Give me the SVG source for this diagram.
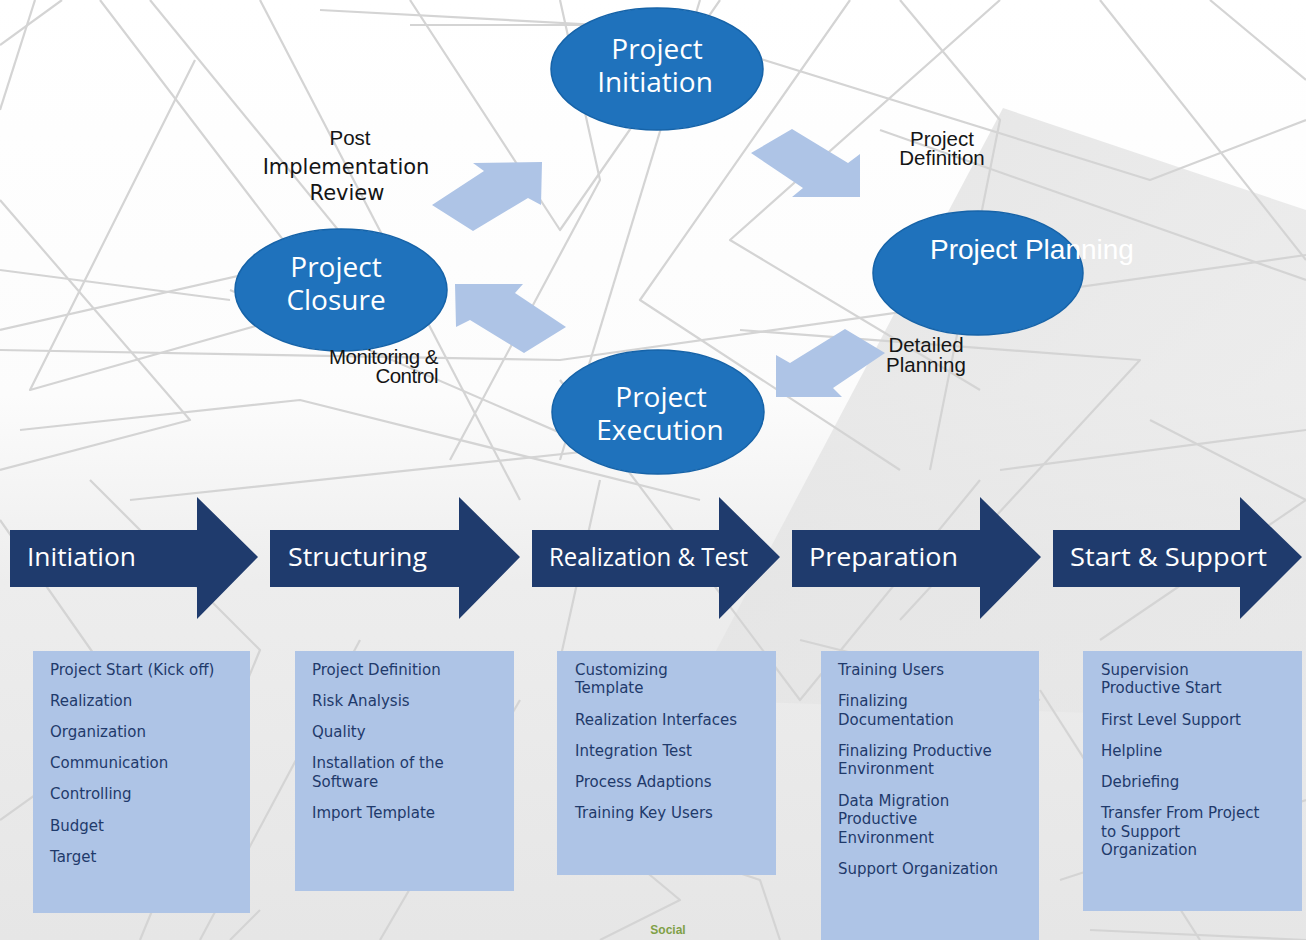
<svg xmlns="http://www.w3.org/2000/svg" width="1306" height="940" viewBox="0 0 1306 940">
<defs>
<linearGradient id="bg" x1="0" y1="0" x2="0" y2="1">
<stop offset="0" stop-color="#FFFFFF"/>
<stop offset="0.42" stop-color="#FCFCFC"/>
<stop offset="0.62" stop-color="#EDEDED"/>
<stop offset="1" stop-color="#E6E6E6"/>
</linearGradient>
<linearGradient id="tri" x1="0" y1="0" x2="1" y2="1">
<stop offset="0" stop-color="#E2E2E2" stop-opacity="0.9"/>
<stop offset="1" stop-color="#E6E6E6" stop-opacity="0.6"/>
</linearGradient>
<style>
.bgl{fill:none;stroke:#D4D4D4;stroke-width:2.2;stroke-linejoin:round}
.ell{fill:#1F72BC;stroke:#1663A8;stroke-width:1.5}
.et{font-family:"Open Sans","DejaVu Sans",sans-serif;font-size:28px;fill:#FFFFFF;text-anchor:middle}
.ca{fill:#AEC4E6}
.lb{font-family:"Liberation Sans",Arial,sans-serif;font-size:20.5px;fill:#151515}
.lv{font-family:"DejaVu Sans",Verdana,sans-serif;font-size:21px;fill:#151515;text-anchor:middle}
.pa{fill:#1F3B6D}
.pt{font-family:"Open Sans","DejaVu Sans",sans-serif;font-size:26px;fill:#FFFFFF}
.bx{fill:#AEC4E6}
.bt{font-family:"DejaVu Sans",Verdana,sans-serif;font-size:15px;fill:#1F3A6B}
</style>
</defs>
<g id="background">
<rect x="0" y="0" width="1306" height="940" fill="url(#bg)"/>
<polygon points="1003,108 1306,210 1306,720 690,700" fill="url(#tri)"/>
<polyline class="bgl" points="0,45 62,0"/>
<polyline class="bgl" points="35,0 0,110"/>
<polyline class="bgl" points="100,0 300,262 0,330"/>
<polyline class="bgl" points="195,60 30,390 330,305"/>
<polyline class="bgl" points="150,0 420,330"/>
<polyline class="bgl" points="0,200 190,420 0,470"/>
<polyline class="bgl" points="0,270 230,300"/>
<polyline class="bgl" points="260,0 520,500"/>
<polyline class="bgl" points="410,25 600,25 320,10"/>
<polyline class="bgl" points="410,0 560,230 720,0"/>
<polyline class="bgl" points="230,290 600,450 130,500"/>
<polyline class="bgl" points="20,430 300,400 700,500"/>
<polyline class="bgl" points="560,0 600,180 450,460"/>
<polyline class="bgl" points="700,0 560,460"/>
<polyline class="bgl" points="850,0 640,300 900,470"/>
<polyline class="bgl" points="1000,0 730,240 980,390"/>
<polyline class="bgl" points="700,40 1150,180 1306,120"/>
<polyline class="bgl" points="0,350 560,360 1306,255"/>
<polyline class="bgl" points="880,130 1306,280"/>
<polyline class="bgl" points="1100,0 1306,260"/>
<polyline class="bgl" points="1210,0 1306,80"/>
<polyline class="bgl" points="900,0 1000,120 930,470"/>
<polyline class="bgl" points="1150,420 1306,500 1100,640"/>
<polyline class="bgl" points="740,330 1140,360 900,620"/>
<polyline class="bgl" points="1000,470 1306,430"/>
<polyline class="bgl" points="560,380 800,700 980,480"/>
<polyline class="bgl" points="600,480 560,660 760,700"/>
<polyline class="bgl" points="90,480 260,650 140,940"/>
<polyline class="bgl" points="0,520 140,720 0,820"/>
<polyline class="bgl" points="260,910 230,940"/>
<polyline class="bgl" points="360,640 200,940"/>
<polyline class="bgl" points="520,700 380,940"/>
<polyline class="bgl" points="560,800 680,900 600,940"/>
<polyline class="bgl" points="700,860 760,880 780,940"/>
<polyline class="bgl" points="1040,690 1200,940"/>
<polyline class="bgl" points="1060,880 1306,800"/>
<polyline class="bgl" points="1090,930 1306,940"/>
<polyline class="bgl" points="800,640 1040,700"/>
</g>
<g id="connectors">
<polygon class="ca" points="432,205 484,171 473,163 542,162 541,205 528,198 473,231"/>
<polygon class="ca" points="751,153 792,129 848,163 860,154 860,197 792,197 803,188"/>
<polygon class="ca" points="776,355 790,363 845,329 885,353 833,388 842,397 776,397"/>
<polygon class="ca" points="455,284 523,284 515,293 566,327 524,353 470,320 456,327"/>
</g>
<g id="node-initiation">
<ellipse class="ell" cx="657" cy="69" rx="106" ry="61"/>
<text class="et" x="657" y="59">Project</text>
<text class="et" x="655" y="92">Initiation</text>
</g>
<g id="node-planning">
<ellipse class="ell" cx="978" cy="273" rx="105" ry="62"/>
<text x="930" y="259" font-family="Liberation Sans, Arial, sans-serif" font-size="28" fill="#FFFFFF">Project Planning</text>
</g>
<g id="node-execution">
<ellipse class="ell" cx="658" cy="412" rx="106" ry="62"/>
<text class="et" x="661" y="407">Project</text>
<text class="et" x="660" y="440">Execution</text>
</g>
<g id="node-closure">
<ellipse class="ell" cx="341" cy="290" rx="106" ry="61"/>
<text class="et" x="336" y="277">Project</text>
<text class="et" x="336" y="310">Closure</text>
</g>
<g id="labels">
<text class="lb" x="350" y="145" text-anchor="middle" font-size="20">Post</text>
<text class="lv" x="346" y="174">Implementation</text>
<text class="lv" x="347" y="200">Review</text>
<text class="lb" x="942" y="146" text-anchor="middle">Project</text>
<text class="lb" x="942" y="165" text-anchor="middle">Definition</text>
<text class="lb" x="926" y="352" text-anchor="middle">Detailed</text>
<text class="lb" x="926" y="372" text-anchor="middle">Planning</text>
<text class="lb" x="438" y="364" text-anchor="end" letter-spacing="-0.5">Monitoring &amp;</text>
<text class="lb" x="438" y="383" text-anchor="end" letter-spacing="-0.5">Control</text>
</g>
<g id="phase-initiation">
<polygon class="pa" points="10,530 197,530 197,497 258,557 197,619 197,587 10,587"/>
<text class="pt" x="27" y="566" textLength="109" lengthAdjust="spacingAndGlyphs">Initiation</text>
</g>
<g id="phase-structuring">
<polygon class="pa" points="270,530 459,530 459,497 520,557 459,619 459,587 270,587"/>
<text class="pt" x="288" y="566" textLength="139" lengthAdjust="spacingAndGlyphs">Structuring</text>
</g>
<g id="phase-realization">
<polygon class="pa" points="532,530 719,530 719,497 780,557 719,619 719,587 532,587"/>
<text class="pt" x="549" y="566" textLength="199" lengthAdjust="spacingAndGlyphs">Realization &amp; Test</text>
</g>
<g id="phase-preparation">
<polygon class="pa" points="792,530 980,530 980,497 1041,557 980,619 980,587 792,587"/>
<text class="pt" x="809" y="566" textLength="149" lengthAdjust="spacingAndGlyphs">Preparation</text>
</g>
<g id="phase-start">
<polygon class="pa" points="1053,530 1240,530 1240,497 1302,557 1240,619 1240,587 1053,587"/>
<text class="pt" x="1070" y="566" textLength="197" lengthAdjust="spacingAndGlyphs">Start &amp; Support</text>
</g>
<g id="box-initiation">
<rect class="bx" x="33" y="651" width="217" height="262"/>
<text class="bt" x="50" y="675">Project Start (Kick off)</text>
<text class="bt" x="50" y="706">Realization</text>
<text class="bt" x="50" y="737">Organization</text>
<text class="bt" x="50" y="768">Communication</text>
<text class="bt" x="50" y="799">Controlling</text>
<text class="bt" x="50" y="831">Budget</text>
<text class="bt" x="50" y="862">Target</text>
</g>
<g id="box-structuring">
<rect class="bx" x="295" y="651" width="219" height="240"/>
<text class="bt" x="312" y="675">Project Definition</text>
<text class="bt" x="312" y="706">Risk Analysis</text>
<text class="bt" x="312" y="737">Quality</text>
<text class="bt" x="312" y="768">Installation of the</text>
<text class="bt" x="312" y="787">Software</text>
<text class="bt" x="312" y="818">Import Template</text>
</g>
<g id="box-realization">
<rect class="bx" x="557" y="651" width="219" height="224"/>
<text class="bt" x="575" y="675">Customizing</text>
<text class="bt" x="575" y="693">Template</text>
<text class="bt" x="575" y="725">Realization Interfaces</text>
<text class="bt" x="575" y="756">Integration Test</text>
<text class="bt" x="575" y="787">Process Adaptions</text>
<text class="bt" x="575" y="818">Training Key Users</text>
</g>
<g id="box-preparation">
<rect class="bx" x="821" y="651" width="218" height="289"/>
<text class="bt" x="838" y="675">Training Users</text>
<text class="bt" x="838" y="706">Finalizing</text>
<text class="bt" x="838" y="725">Documentation</text>
<text class="bt" x="838" y="756">Finalizing Productive</text>
<text class="bt" x="838" y="774">Environment</text>
<text class="bt" x="838" y="806">Data Migration</text>
<text class="bt" x="838" y="824">Productive</text>
<text class="bt" x="838" y="843">Environment</text>
<text class="bt" x="838" y="874">Support Organization</text>
</g>
<g id="box-start">
<rect class="bx" x="1083" y="651" width="219" height="260"/>
<text class="bt" x="1101" y="675">Supervision</text>
<text class="bt" x="1101" y="693">Productive Start</text>
<text class="bt" x="1101" y="725">First Level Support</text>
<text class="bt" x="1101" y="756">Helpline</text>
<text class="bt" x="1101" y="787">Debriefing</text>
<text class="bt" x="1101" y="818">Transfer From Project</text>
<text class="bt" x="1101" y="837">to Support</text>
<text class="bt" x="1101" y="855">Organization</text>
</g>
<text x="668" y="934" text-anchor="middle" font-family="Liberation Sans, Arial, sans-serif" font-size="12" font-weight="bold" fill="#7FA047">Social</text>
</svg>
